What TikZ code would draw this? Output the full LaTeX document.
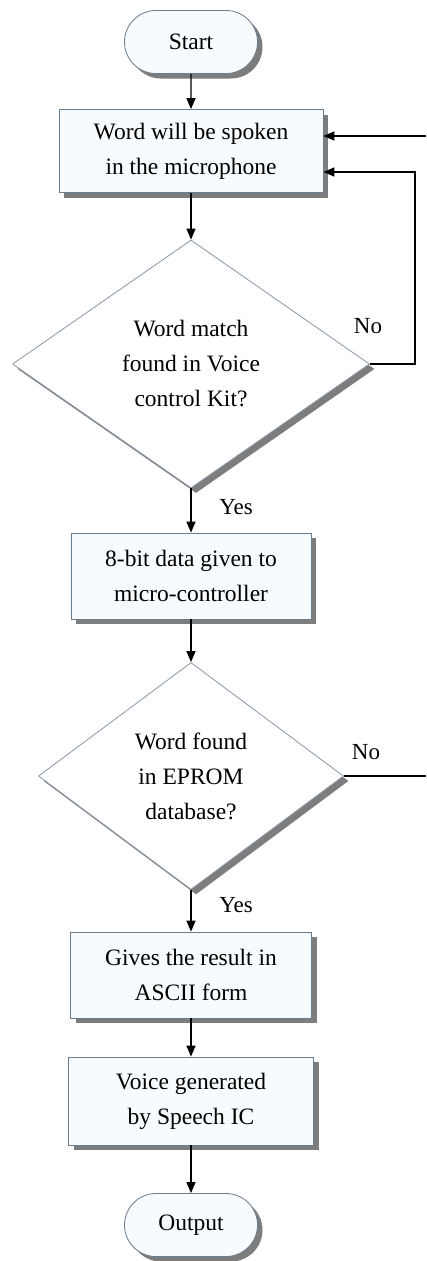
\documentclass[tikz,border=0pt]{standalone}
\usepackage{fontspec}
\setmainfont{Liberation Serif}
\newfontfamily\fcfont{Liberation Serif}
\usetikzlibrary{arrows.meta,positioning,shapes.geometric,shapes.misc,shadows}
\definecolor{fcedge}{RGB}{105,125,145}
\definecolor{fcfill}{RGB}{247,251,253}
\definecolor{fcshadow}{RGB}{125,125,125}

\begin{document}
\begin{tikzpicture}[x=1pt, y=-1pt, >={Triangle[length=11pt,width=9pt]},
  every node/.style={font=\fcfont\fontsize{23.5}{35}\selectfont, align=center},
  dropsh/.style={drop shadow={shadow xshift=5pt,shadow yshift=-5pt,fill=fcshadow,opacity=1}},
  term/.style={rounded rectangle, draw=fcedge, fill=fcfill, dropsh, line width=0.8pt,
    minimum width=133pt, minimum height=63pt, inner sep=0pt},
  procbox/.style={rectangle, draw=fcedge, fill=fcfill, dropsh, line width=0.8pt, inner sep=0pt},
  decide/.style={diamond, draw=fcedge!80, fill=white, dropsh, line width=0.8pt,
    inner sep=0pt, aspect=1.44},
  flow/.style={->, line width=1.3pt},
  lbl/.style={font=\fcfont\fontsize{23}{26}\selectfont}]
  \useasboundingbox (0,0) rectangle (426,1261);
  % --- main column ---
  \node[term] (start) at (191,42) {Start};
  \node[procbox, minimum width=264pt, minimum height=83pt] (speak) at (191,151)
    {Word will be spoken\\in the microphone};
  \node[decide, minimum width=357pt, minimum height=248pt] (match) at (191,364)
    {Word match\\found in Voice\\control Kit?};
  \node[procbox, minimum width=240pt, minimum height=86pt] (data) at (191,576)
    {8-bit data given to\\micro-controller};
  \node[decide, minimum width=305pt, minimum height=227pt] (eprom) at (191,776)
    {Word found\\in EPROM\\database?};
  \node[procbox, minimum width=241pt, minimum height=86pt] (ascii) at (191,975)
    {Gives the result in\\ASCII form};
  \node[procbox, minimum width=245pt, minimum height=88pt] (voice) at (191,1101)
    {Voice generated\\by Speech IC};
  \node[term] (output) at (191,1225) {Output};
  % --- branch labels ---
  \node[lbl] (no1) at (368,326) {No};
  \node[lbl] (yes1) at (236,507) {Yes};
  \node[lbl] (no2) at (366,752) {No};
  \node[lbl] (yes2) at (236,905) {Yes};
  % --- connectors ---
  \draw[flow] (start) -- (speak);
  \draw[flow] (speak) -- (match);
  \draw[flow] (match) -- (data);
  \draw[flow] (data) -- (eprom);
  \draw[flow] (eprom) -- (ascii);
  \draw[flow] (ascii) -- (voice);
  \draw[flow] (voice) -- (output);
  % --- loops to the right ---
  \coordinate (loopin) at (426,136);
  \coordinate (loopout) at (426,776);
  \draw[flow] (loopin) -- (speak.east |- loopin);
  \draw[flow] (match.east) -- ++(45,0) |- ([yshift=-21pt]speak.east);
  \draw[line width=1.3pt] (eprom.east) -- (loopout);
\end{tikzpicture}
\end{document}
